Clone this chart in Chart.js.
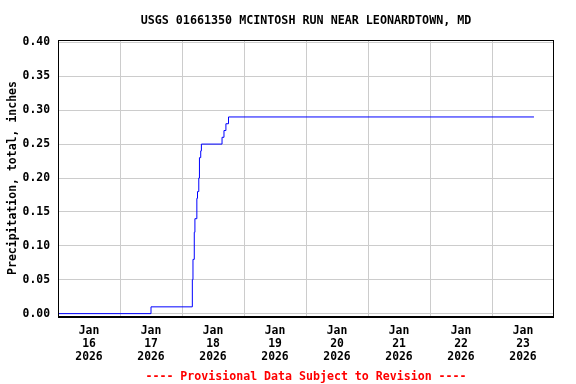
<!DOCTYPE html>
<html>
<head>
<meta charset="utf-8">
<script src="https://cdn.jsdelivr.net/npm/chart.js@4.4.1/dist/chart.umd.min.js"></script>
<style>
  html, body { margin: 0; padding: 0; background: #ffffff; }
  #wrap { width: 576px; height: 384px; position: relative; }
</style>
</head>
<body>
<div id="wrap"><canvas id="c" width="576" height="384"></canvas></div>
<script>
// Hours since Jan 16 2026 00:00 and cumulative precipitation (inches)
const hours  = [0, 36, 52, 52.25, 52.75, 53, 53.75, 54, 54.5, 54.75, 55.25, 55.5, 63.5, 64.25, 65, 66, 184.25];
const precip = [0.00, 0.01, 0.05, 0.08, 0.12, 0.14, 0.17, 0.18, 0.20, 0.23, 0.24, 0.25, 0.26, 0.27, 0.28, 0.29, 0.29];

const dayLabels = [
  ["Jan", "16", "2026"], ["Jan", "17", "2026"], ["Jan", "18", "2026"], ["Jan", "19", "2026"],
  ["Jan", "20", "2026"], ["Jan", "21", "2026"], ["Jan", "22", "2026"], ["Jan", "23", "2026"]
];
const yTicks = [0.00, 0.05, 0.10, 0.15, 0.20, 0.25, 0.30, 0.35, 0.40];

const titleText = "USGS 01661350 MCINTOSH RUN NEAR LEONARDTOWN, MD";
const footerText = "---- Provisional Data Subject to Revision ----";
const yTitle = "Precipitation, total, inches";

const FONT = "'DejaVu Sans Mono', monospace";

const framePlugin = {
  id: 'frame',
  afterDraw(chart) {
    const { ctx, chartArea: a } = chart;
    ctx.save();
    ctx.strokeStyle = '#000000';
    ctx.lineWidth = 1;
    ctx.strokeRect(Math.round(a.left) + 0.5, Math.round(a.top) + 0.5,
                   Math.round(a.right - a.left) - 1, Math.round(a.bottom - a.top));
    ctx.beginPath();
    ctx.moveTo(a.left, Math.round(a.bottom) + 1.5);
    ctx.lineTo(a.right, Math.round(a.bottom) + 1.5);
    ctx.stroke();
    const cx = (a.left + a.right) / 2;
    ctx.textAlign = 'center';
    ctx.textBaseline = 'middle';
    ctx.fillStyle = '#000000';
    ctx.font = "bold 11.7px " + FONT;
    ctx.fillText(titleText, cx, 21);
    ctx.fillStyle = '#ff0000';
    ctx.font = "bold 11.6px " + FONT;
    ctx.fillText(footerText, cx, 377);
    ctx.restore();
  }
};

new Chart(document.getElementById('c'), {
  type: 'line',
  data: {
    datasets: [{
      data: hours.map((h, i) => ({ x: h, y: precip[i] })),
      borderColor: '#0000ff',
      borderWidth: 1,
      pointRadius: 0,
      stepped: 'before',
      fill: false,
      tension: 0
    }]
  },
  options: {
    responsive: false,
    animation: false,
    devicePixelRatio: 1,
    layout: { padding: { top: 40, right: 22, bottom: 0, left: 0 } },
    plugins: { legend: { display: false }, title: { display: false }, tooltip: { enabled: false } },
    scales: {
      x: {
        type: 'linear',
        min: 0,
        max: 192,
        afterBuildTicks(scale) {
          const t = [];
          for (let h = 0; h <= 192; h += 12) t.push({ value: h });
          scale.ticks = t;
        },
        afterFit(scale) { scale.height = 68; },
        border: { display: false },
        grid: {
          drawTicks: false,
          color: (c) => (c.tick && c.tick.value % 24 === 0 && c.tick.value > 0 && c.tick.value < 192) ? '#cccccc' : 'rgba(0,0,0,0)',
          lineWidth: 1
        },
        ticks: {
          autoSkip: false,
          maxRotation: 0,
          padding: 8,
          color: '#000000',
          font: { family: FONT, size: 11.4, weight: 'bold', lineHeight: 1.17 },
          callback: (v) => {
            if (v % 24 === 12) return dayLabels[(v - 12) / 24];
            return '';
          }
        }
      },
      y: {
        type: 'linear',
        min: -0.0035,
        max: 0.4035,
        afterBuildTicks(scale) { scale.ticks = yTicks.map(v => ({ value: v })); },
        afterFit(scale) { scale.width = 58; },
        border: { display: false },
        grid: { drawTicks: false, color: '#cccccc', lineWidth: 1 },
        ticks: {
          padding: 8,
          color: '#000000',
          font: { family: FONT, size: 11.4, weight: 'bold' },
          callback: (v) => v.toFixed(2)
        },
        title: {
          display: true,
          text: yTitle,
          color: '#000000',
          padding: { top: 6, bottom: 0 },
          font: { family: FONT, size: 11.5, weight: 'bold' }
        }
      }
    }
  },
  plugins: [framePlugin]
});
</script>
</body>
</html>
